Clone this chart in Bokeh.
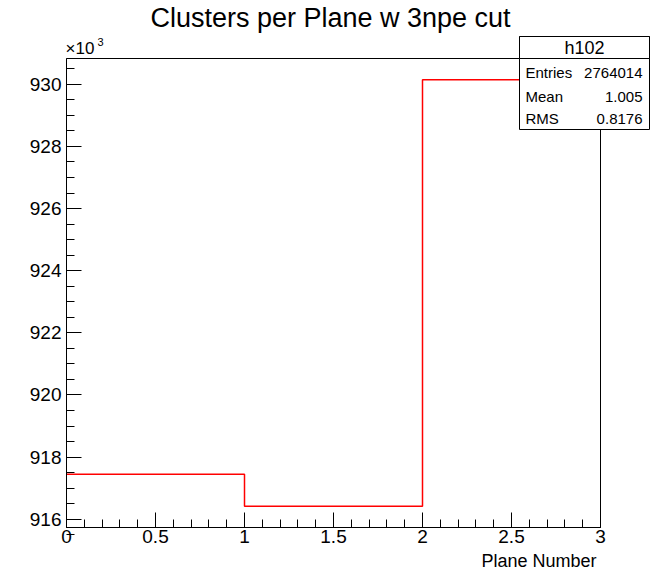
from bokeh.plotting import figure
from bokeh.models import Label, BoxAnnotation, FixedTicker, CustomJSTickFormatter, Range1d
from bokeh.embed import file_html
from bokeh.resources import INLINE

# ---- data ----
title_text = "Clusters per Plane w 3npe cut"
x_label = "Plane Number"
hist_name = "h102"
bin_edges = [0, 1, 2, 3]
counts = [917450, 916420, 930144]
stat_names = ["Entries", "Mean", "RMS"]
stat_values = ["2764014", "1.005", "0.8176"]
y_ticks = [916000, 918000, 920000, 922000, 924000, 926000, 928000, 930000]
x_ticks = [0, 0.5, 1, 1.5, 2, 2.5, 3]

FONT = "Liberation Sans"

# ---- layout (pixels) ----
W, H = 651, 571
FL, FR, FT, FB = 66, 600, 58, 527      # histogram frame box on the canvas

x0, x1 = bin_edges[0], bin_edges[-1]
lo, hi = min(counts), max(counts)
pad = 0.05 * (hi - lo)
ymin, ymax = lo - pad, hi + pad
kx = (FR - FL) / (x1 - x0)
ky = (FB - FT) / (ymax - ymin)

p = figure(width=W, height=H, output_backend="svg", toolbar_location=None,
           x_range=Range1d(x0 - FL / kx, x1 + (W - FR) / kx),
           y_range=Range1d(ymin - (H - FB) / ky, ymax + FT / ky),
           min_border=0)
p.title.visible = False
p.grid.visible = False
p.outline_line_color = None
p.background_fill_color = "white"
p.border_fill_color = "white"

# histogram outline
y_step = counts + [counts[-1]]
p.step(x=bin_edges, y=y_step, mode="after", line_color="#ff0000", line_width=1.5)

# frame box
p.add_layout(BoxAnnotation(left=x0, right=x1, bottom=ymin, top=ymax,
                           fill_alpha=0, line_color="black", line_width=1, line_alpha=1))

# axes at the frame's left and bottom edges
x_minor = [i / 10 for i in range(0, 31)]
y_minor = [915500 + 500 * i for i in range(0, 31)]
xa, ya = p.xaxis[0], p.yaxis[0]
xa.fixed_location = ymin
ya.fixed_location = x0
xa.bounds = (x0, x1)
ya.bounds = (ymin, ymax)
xa.ticker = FixedTicker(ticks=x_ticks, minor_ticks=x_minor)
ya.ticker = FixedTicker(ticks=y_ticks, minor_ticks=y_minor)
ya.formatter = CustomJSTickFormatter(code="return (tick/1000).toFixed(0);")
xa.formatter = CustomJSTickFormatter(code="return String(tick);")
for ax in (xa, ya):
    ax.major_tick_in = 15
    ax.major_tick_out = 0
    ax.minor_tick_in = 8
    ax.minor_tick_out = 0
    ax.axis_line_color = "black"
    ax.major_tick_line_color = "black"
    ax.minor_tick_line_color = "black"
    ax.major_label_text_font = FONT
    ax.major_label_text_font_size = "19px"
    ax.major_label_text_color = "black"
ya.major_label_standoff = 5
xa.major_label_standoff = 2

def lab(x, y, text, size, align="left", level="annotation"):
    p.add_layout(Label(x=x, y=y, x_units="screen", y_units="screen", text=text,
                       text_font=FONT, text_font_size=size, text_align=align,
                       text_baseline="middle", text_color="black", level=level))

# title, axis title, exponent (screen y measured from the bottom)
lab(330, H - 17, title_text, "27px", "center")
lab(596, H - 560, x_label, "18px", "right")
lab(FL - 1, H - 47.5, "\u00d710", "17px", "left")
lab(FL + 31, H - 41.5, "3", "11px", "left")

# stats box
box_l, box_r, box_t, box_b, head_b = 519, 649, H - 36, H - 129, H - FT
for top, bot in ((box_t, box_b), (box_t, head_b)):
    p.add_layout(BoxAnnotation(left=box_l, right=box_r, top=top, bottom=bot,
                               left_units="screen", right_units="screen",
                               top_units="screen", bottom_units="screen",
                               fill_color="white", fill_alpha=1, line_color="black",
                               line_width=1, line_alpha=1, level="overlay"))
lab((box_l + box_r) / 2, H - 47, hist_name, "18px", "center", "overlay")
row_y = [72, 96, 118]
for name, val, ry in zip(stat_names, stat_values, row_y):
    lab(box_l + 6, H - ry, name, "15px", "left", "overlay")
    lab(box_r - 7, H - ry, val, "15px", "right", "overlay")

open("out.html", "w").write(file_html(p, INLINE))
